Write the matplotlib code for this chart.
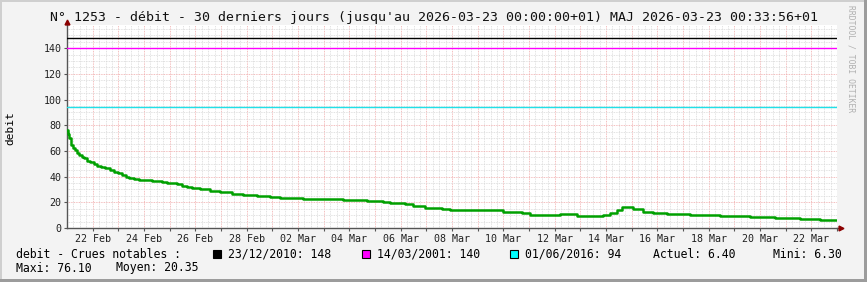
import matplotlib
matplotlib.use("Agg")
import matplotlib.pyplot as plt
from matplotlib.patches import Rectangle
from matplotlib.lines import Line2D
from datetime import datetime, timedelta

# debit : (jours depuis le debut, valeur)
jours = [0.00, 0.04, 0.08, 0.16, 0.23, 0.31, 0.39, 0.47, 0.58, 0.66, 0.78, 0.90,
         1.05, 1.17, 1.32, 1.48, 1.68, 1.83, 1.99, 2.14, 2.30, 2.42, 2.61, 2.81,
         3.04, 3.31, 3.70, 3.90, 4.09, 4.29, 4.48, 4.68, 4.87, 5.18, 5.57, 5.96,
         6.43, 6.86, 7.40, 7.91, 8.30, 9.19, 9.97, 10.75, 11.69, 12.31, 12.58,
         12.86, 13.17, 13.48, 13.95, 14.61, 14.92, 15.31, 16.68, 16.99, 17.73,
         18.04, 19.01, 19.21, 19.60, 19.87, 20.88, 21.16, 21.43, 21.62, 22.05,
         22.44, 22.83, 23.38, 24.27, 25.44, 26.61, 27.58, 28.56, 29.34, 30.00]
debit = [76.1, 73.5, 70.0, 64.5, 62.0, 60.7, 58.0, 56.8, 55.0, 54.2, 52.5, 51.1,
         49.5, 48.2, 47.2, 46.4, 45.0, 43.8, 42.5, 41.2, 40.0, 39.1, 38.0, 37.3,
         37.0, 36.5, 36.0, 35.4, 34.8, 33.9, 32.9, 32.0, 31.0, 30.1, 28.8, 27.8,
         26.7, 25.9, 25.1, 24.3, 23.6, 22.8, 22.3, 21.5, 20.8, 20.0, 19.7,
         19.2, 18.7, 17.4, 15.3, 14.6, 14.2, 13.8, 14.2, 12.2, 11.4,
         10.1, 10.1, 11.1, 10.9, 9.3, 10.1, 11.4, 14.0, 16.1, 14.5,
         12.7, 11.4, 10.6, 9.9, 9.5, 8.6, 7.8, 7.0, 6.6, 6.4]

crues_dates = ["23/12/2010", "14/03/2001", "01/06/2016"]
crues_valeurs = [148, 140, 94]
crues_couleurs = ["#000000", "#ff00ff", "#20e0e8"]

debut = datetime(2026, 2, 21)
fin = datetime(2026, 3, 23)

W, H = 867, 282
def fx(x):
    return x / W
def fy(y):
    return 1 - y / H

mono = "DejaVu Sans Mono"
fig = plt.figure(figsize=(W / 100, H / 100), dpi=100)
fig.patch.set_facecolor("#f3f3f3")

ax = fig.add_axes([fx(67), fy(228), 770 / W, 203 / H])
ax.set_facecolor("white")

x = [debut + timedelta(days=d) for d in jours]
ax.plot(x, debit, color="#00a000", linewidth=1.8, drawstyle="steps-post", zorder=5)
for v, c in zip(crues_valeurs, crues_couleurs):
    ax.axhline(v, color=c, linewidth=1.0, zorder=4)

ax.set_xlim(debut, fin)
ax.set_ylim(0, 158)

# grille
jours_maj = [debut + timedelta(days=i) for i in range(1, 31)]
ax.set_xticks(jours_maj)
ax.set_xticklabels([d.strftime("%d %b") if i % 2 == 0 else "" for i, d in enumerate(jours_maj)])
ax.set_xticks([debut + timedelta(hours=6 * i) for i in range(1, 120)], minor=True)
ax.set_yticks(range(0, 141, 20))
ax.set_yticks(range(5, 158, 5), minor=True)
ax.grid(which="minor", color="#d8d8d8", linestyle=(0, (1, 1)), linewidth=0.6)
ax.grid(which="major", color="#f0a8a8", linestyle=(0, (1, 1)), linewidth=0.6)
ax.set_axisbelow(True)

for s in ["top", "right"]:
    ax.spines[s].set_visible(False)
for s in ["left", "bottom"]:
    ax.spines[s].set_color("#555555")
    ax.spines[s].set_linewidth(1.0)
ax.tick_params(which="major", length=2, width=0.8, color="#555555", labelsize=7.2, pad=2)
ax.tick_params(which="minor", length=0)
for lab in ax.get_xticklabels() + ax.get_yticklabels():
    lab.set_fontfamily(mono)
    lab.set_color("#202020")

# fleches des axes
fig.add_artist(Line2D([fx(837), fx(840)], [fy(228), fy(228)], color="#555555", linewidth=1.0))
fig.add_artist(Line2D([fx(67), fx(67)], [fy(25), fy(23)], color="#555555", linewidth=1.0))
fig.add_artist(Line2D([fx(841)], [fy(228)], marker=">", markersize=3.5, color="#8b0000", linestyle="none"))
fig.add_artist(Line2D([fx(67)], [fy(22)], marker="^", markersize=3.5, color="#8b0000", linestyle="none"))

# textes
fig.text(0.5, fy(18), "N° 1253 - débit - 30 derniers jours (jusqu'au 2026-03-23 00:00:00+01) MAJ 2026-03-23 00:33:56+01",
         ha="center", va="center", fontsize=9.5, family=mono, color="#101010")
fig.text(fx(10), fy(128), "debit", rotation=90, ha="center", va="center", fontsize=8, family=mono)
fig.text(fx(851), fy(5), "RRDTOOL / TOBI OETIKER", rotation=270, ha="center", va="top",
         fontsize=5.8, family=mono, color="#b0b0b0")

fs = 8.3
y1, y2 = fy(254), fy(268)
fig.text(fx(16), y1, "debit - Crues notables :", ha="left", va="center", fontsize=fs, family=mono)
carres_x = [213, 362, 510]
carres_c = ["#000000", "#ff00ff", "#00ffff"]
for cx, d, v, c in zip(carres_x, crues_dates, crues_valeurs, carres_c):
    fig.add_artist(Rectangle((fx(cx), fy(258)), 8 / W, 8 / H, facecolor=c, edgecolor="black",
                             linewidth=0.8, transform=fig.transFigure))
    fig.text(fx(cx + 15), y1, f"{d}: {v}", ha="left", va="center", fontsize=fs, family=mono)
fig.text(fx(653), y1, "Actuel: 6.40", ha="left", va="center", fontsize=fs, family=mono)
fig.text(fx(773), y1, "Mini: 6.30", ha="left", va="center", fontsize=fs, family=mono)
fig.text(fx(16), y2, "Maxi: 76.10", ha="left", va="center", fontsize=fs, family=mono)
fig.text(fx(116), y2, "Moyen: 20.35", ha="left", va="center", fontsize=fs, family=mono)

# cadre
fig.add_artist(Rectangle((0, 1 - 2 / H), 1, 2 / H, facecolor="#cfcfcf", edgecolor="none", transform=fig.transFigure))
fig.add_artist(Rectangle((0, 0), 2 / W, 1, facecolor="#cfcfcf", edgecolor="none", transform=fig.transFigure))
fig.add_artist(Rectangle((1 - 3 / W, 0), 3 / W, 1, facecolor="#9c9c9c", edgecolor="none", transform=fig.transFigure))
fig.add_artist(Rectangle((0, 0), 1, 3 / H, facecolor="#9c9c9c", edgecolor="none", transform=fig.transFigure))

fig.savefig("out.png", dpi=100, facecolor=fig.get_facecolor())
